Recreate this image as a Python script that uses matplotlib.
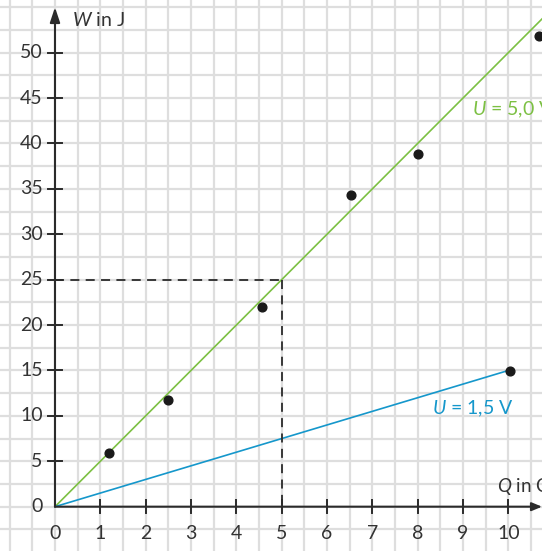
import matplotlib
matplotlib.use("Agg")
import matplotlib.pyplot as plt
import numpy as np

plt.rcParams['font.family'] = ['Lato', 'DejaVu Sans']
plt.rcParams['mathtext.fontset'] = 'custom'
plt.rcParams['mathtext.rm'] = 'Lato'
plt.rcParams['mathtext.it'] = 'Lato:italic'

# data
q_points = [1.2, 2.5, 4.57, 6.53, 8.0, 10.68, 10.04]
w_points = [5.9, 11.75, 22.0, 34.3, 38.8, 51.8, 14.95]
x_ticks = [0, 1, 2, 3, 4, 5, 6, 7, 8, 9, 10]
y_ticks = [0, 5, 10, 15, 20, 25, 30, 35, 40, 45, 50]
voltage_green = 5.0
voltage_blue = 1.5
q_green_end = 11.0
q_blue_end = 10.0
q_mark = 5.0

green = '#7cc043'
blue = '#1597cb'
axc = '#2b2b2b'
gridc = '#dedede'

fig = plt.figure(figsize=(5.42, 5.51), dpi=100)
ax = fig.add_axes([0, 0, 1, 1])
ax.set_xlim(-1.213, 10.743)
ax.set_ylim(-4.88, 55.80)
ax.axis('off')

# grid
for gx in np.arange(-1.0, 10.75, 0.5):
    ax.axvline(gx, color=gridc, lw=1.6, zorder=0)
for gy in np.arange(-2.5, 56, 2.5):
    ax.axhline(gy, color=gridc, lw=1.6, zorder=0)

# axes with arrows
ax.annotate('', xy=(10.743, 0), xytext=(0, 0),
            arrowprops=dict(arrowstyle='-|>,head_length=0.6,head_width=0.25', color=axc, lw=1.5,
                            shrinkA=0, shrinkB=0), zorder=3)
ax.annotate('', xy=(0, 55.0), xytext=(0, 0),
            arrowprops=dict(arrowstyle='-|>,head_length=0.9,head_width=0.3', color=axc, lw=1.5,
                            shrinkA=0, shrinkB=0), zorder=3)

# ticks
for t in x_ticks[1:]:
    ax.plot([t, t], [-0.75, 0.75], color=axc, lw=1.4, zorder=3)
for t in y_ticks[1:]:
    ax.plot([-0.16, 0.16], [t, t], color=axc, lw=1.4, zorder=3)
for t in x_ticks:
    ax.text(t, -3.0, str(t), ha='center', va='center', fontsize=14, color='#333333')
for t in y_ticks:
    ax.text(-0.27, t, str(t), ha='right', va='center', fontsize=14, color='#333333')

# lines
qg = np.array([0, q_green_end])
ax.plot(qg, voltage_green * qg, color=green, lw=1.2, zorder=2)
qb = np.array([0, q_blue_end])
ax.plot(qb, voltage_blue * qb, color=blue, lw=1.2, zorder=2)

# dashed guide
wm = voltage_green * q_mark
ax.plot([0, q_mark], [wm, wm], color=axc, lw=1.3, ls=(0, (5, 3.5)), zorder=2)
ax.plot([q_mark, q_mark], [wm, 0], color=axc, lw=1.3, ls=(0, (5, 3.5)), zorder=2)

# points
ax.plot(q_points, w_points, 'o', color='#1a1a1a', ms=6.3, zorder=4)

# labels
ax.text(0.38, 53.6, '$W$ in J', ha='left', va='center', fontsize=14, color='#333333')
ax.text(9.76, 2.17, '$Q$ in C', ha='left', va='center', fontsize=13.5, color='#333333')
ax.text(9.2, 43.7, '$U$ = 5,0 V', ha='left', va='center', fontsize=14, color=green)
ax.text(8.32, 10.76, '$U$ = 1,5 V', ha='left', va='center', fontsize=14, color=blue)

fig.savefig('out.png', dpi=100)
